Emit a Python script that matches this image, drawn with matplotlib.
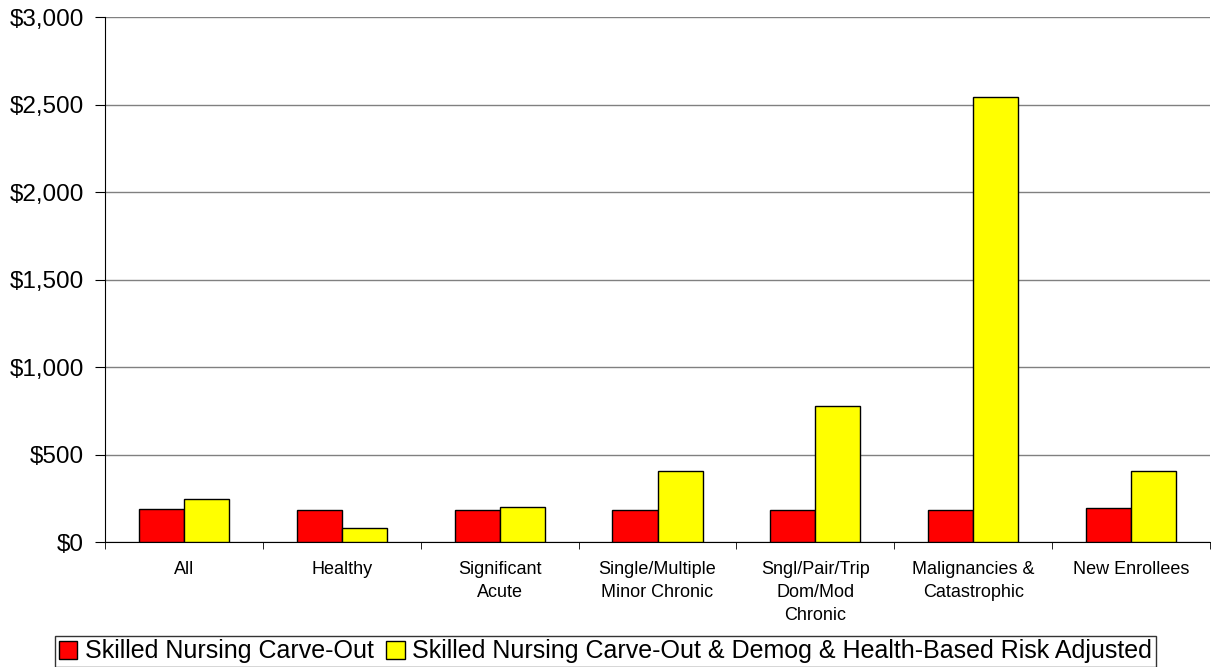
import numpy as np
import matplotlib
matplotlib.use('Agg')
import matplotlib.pyplot as plt
from matplotlib.ticker import FuncFormatter

plt.rcParams['font.family'] = ['Liberation Sans', 'DejaVu Sans']

# Data
categories = ['All', 'Healthy', 'Significant\nAcute', 'Single/Multiple\nMinor Chronic',
              'Sngl/Pair/Trip\nDom/Mod\nChronic', 'Malignancies &\nCatastrophic', 'New Enrollees']
carve_out = [190, 185, 185, 183, 183, 183, 197]
risk_adjusted = [248, 80, 198, 405, 777, 2545, 405]
series_names = ['Skilled Nursing Carve-Out',
                'Skilled Nursing Carve-Out & Demog & Health-Based Risk Adjusted']

fig = plt.figure(figsize=(12.11, 6.67), dpi=100)
ax = fig.add_axes([0.0867, 0.1874, 0.9125, 0.7871])

x = np.arange(len(categories))
w = 1 / 3.5
b1 = ax.bar(x - w / 2, carve_out, w, color='#ff0000', edgecolor='black', linewidth=1,
            label=series_names[0], zorder=3)
b2 = ax.bar(x + w / 2, risk_adjusted, w, color='#ffff00', edgecolor='black', linewidth=1,
            label=series_names[1], zorder=3)

ax.set_xlim(-0.5, len(categories) - 0.5)
ax.set_ylim(0, 3000)
ax.set_yticks(np.arange(0, 3001, 500))
ax.yaxis.set_major_formatter(FuncFormatter(lambda v, p: f'${v:,.0f}'))
ax.yaxis.grid(True, color='#808080', linewidth=1, zorder=0)

# category boundary ticks
ax.set_xticks(x)
ax.set_xticklabels(categories, fontsize=13, linespacing=1.45)
ax.tick_params(axis='x', length=0, pad=14)
ax.set_xticks(np.arange(-0.5, len(categories)), minor=True)
ax.tick_params(axis='x', which='minor', length=5, color='black', direction='out')
ax.tick_params(axis='y', labelsize=17.5, length=7, direction='out', pad=8)

for s in ['top', 'right']:
    ax.spines[s].set_visible(False)
ax.spines['left'].set_color('black')
ax.spines['bottom'].set_color('black')

leg = fig.legend(handles=[b1, b2], loc='lower center', bbox_to_anchor=(0.5, -0.004), ncol=2,
                 fontsize=18, frameon=True, fancybox=False, edgecolor='black',
                 handlelength=0.75, handleheight=0.75, handletextpad=0.3, columnspacing=0.5,
                 borderpad=0.15, borderaxespad=0.1)
leg.get_frame().set_linewidth(1)

fig.savefig('out.png', dpi=100)
